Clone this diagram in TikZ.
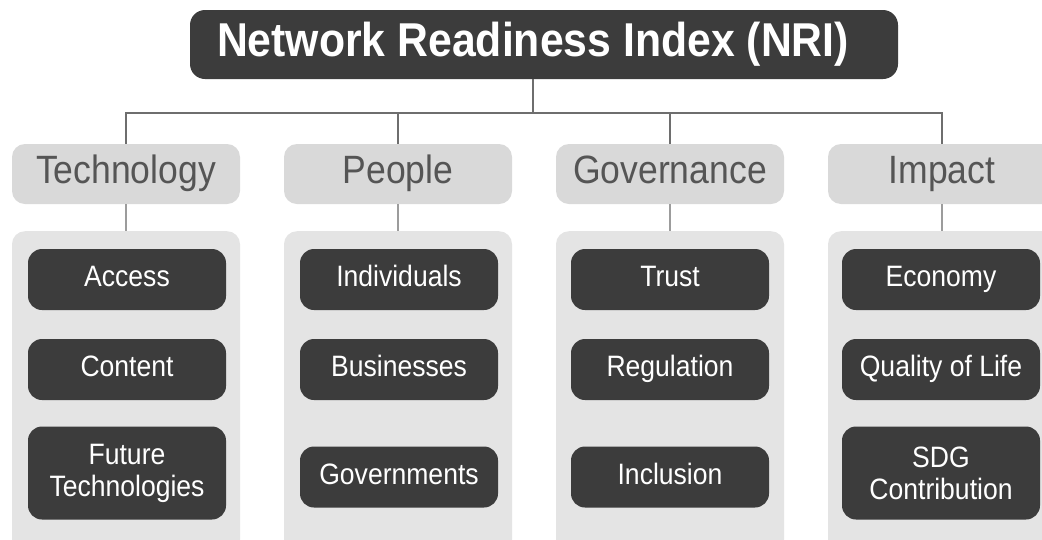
\documentclass[tikz,border=0pt]{standalone}
\usepackage{fontspec}
\setmainfont{Liberation Sans}[FakeStretch=0.9]
\definecolor{darkbox}{HTML}{3C3C3C}
\definecolor{cattext}{HTML}{555555}
\definecolor{catfill}{HTML}{D9D9D9}
\definecolor{panelfill}{HTML}{E4E4E4}
\definecolor{linedark}{HTML}{6E6E6E}
\definecolor{linelight}{HTML}{9C9C9C}
\tikzset{
  titlebox/.style={fill=darkbox, text=white, rounded corners=15pt, inner sep=0pt,
    minimum width=708pt, minimum height=69pt, text height=34pt, text depth=10.5pt,
    font=\fontsize{47.5}{50}\selectfont\bfseries},
  catbox/.style={fill=catfill, text=cattext, rounded corners=13pt, inner sep=0pt,
    minimum width=228pt, minimum height=60pt, text height=28.5pt, text depth=8.7pt,
    font=\fontsize{39.5}{42}\selectfont},
  panelbox/.style={fill=panelfill, rounded corners=13pt, inner sep=0pt,
    minimum width=228pt, minimum height=340pt, anchor=north},
  itembox/.style={fill=darkbox, text=white, rounded corners=14pt, inner sep=0pt,
    minimum width=198pt, minimum height=61pt, text height=21.2pt, text depth=6.5pt,
    font=\fontsize{29.5}{32}\selectfont},
  tallitem/.style={fill=darkbox, text=white, rounded corners=14pt, inner sep=0pt,
    minimum width=198pt, minimum height=93pt, align=center,
    font=\fontsize{29.5}{32}\selectfont},
  trunk/.style={draw=linedark, line width=2.6pt},
  twig/.style={draw=linelight, line width=2.6pt}
}
\begin{document}
\begin{tikzpicture}[x=1pt,y=-1pt]
\useasboundingbox (0,0) rectangle (1042,539);
\clip (0,0) rectangle (1042,539);
\fill[white] (0,0) rectangle (1042,539);

% title
\node[titlebox] (title) at (544,44.5) {Network Readiness Index (NRI)\kern22pt};

% categories
\node[catbox] (tech) at (126,174) {Technology};
\node[catbox] (people) at (398,174) {People};
\node[catbox] (gov) at (670,174) {Governance};
\node[catbox] (impact) at (942,174) {Impact};

% panels
\node[panelbox] (ptech) at (126,231) {};
\node[panelbox] (ppeople) at (398,231) {};
\node[panelbox] (pgov) at (670,231) {};
\node[panelbox] (pimpact) at (942,231) {};

% items
\node[itembox] (access) at (127,279.5) {Access};
\node[itembox] (content) at (127,369.5) {Content};
\node[tallitem] (future) at (127,473) {Future\\Technologies};

\node[itembox] (indiv) at (399,279.5) {Individuals};
\node[itembox] (business) at (399,369.5) {Businesses};
\node[itembox] (govts) at (399,477) {Governments};

\node[itembox] (trust) at (670,279.5) {Trust};
\node[itembox] (regul) at (670,369.5) {Regulation};
\node[itembox] (incl) at (670,477) {Inclusion};

\node[itembox] (economy) at (941,279.5) {Economy};
\node[itembox] (quality) at (941,369.5) {Quality of Life};
\node[tallitem] (sdg) at (941,473) {SDG\\Contribution};

% connectors
\coordinate (hub) at (533,113);
\draw[trunk] (title.south -| hub) -- (hub);
\draw[trunk] (tech.north) -- (tech.north |- hub) -- (impact.north |- hub) -- (impact.north);
\draw[trunk] (people.north) -- (people.north |- hub);
\draw[trunk] (gov.north) -- (gov.north |- hub);

\draw[twig] (tech.south) -- (ptech.north);
\draw[twig] (people.south) -- (ppeople.north);
\draw[twig] (gov.south) -- (pgov.north);
\draw[twig] (impact.south) -- (pimpact.north);
\end{tikzpicture}
\end{document}
